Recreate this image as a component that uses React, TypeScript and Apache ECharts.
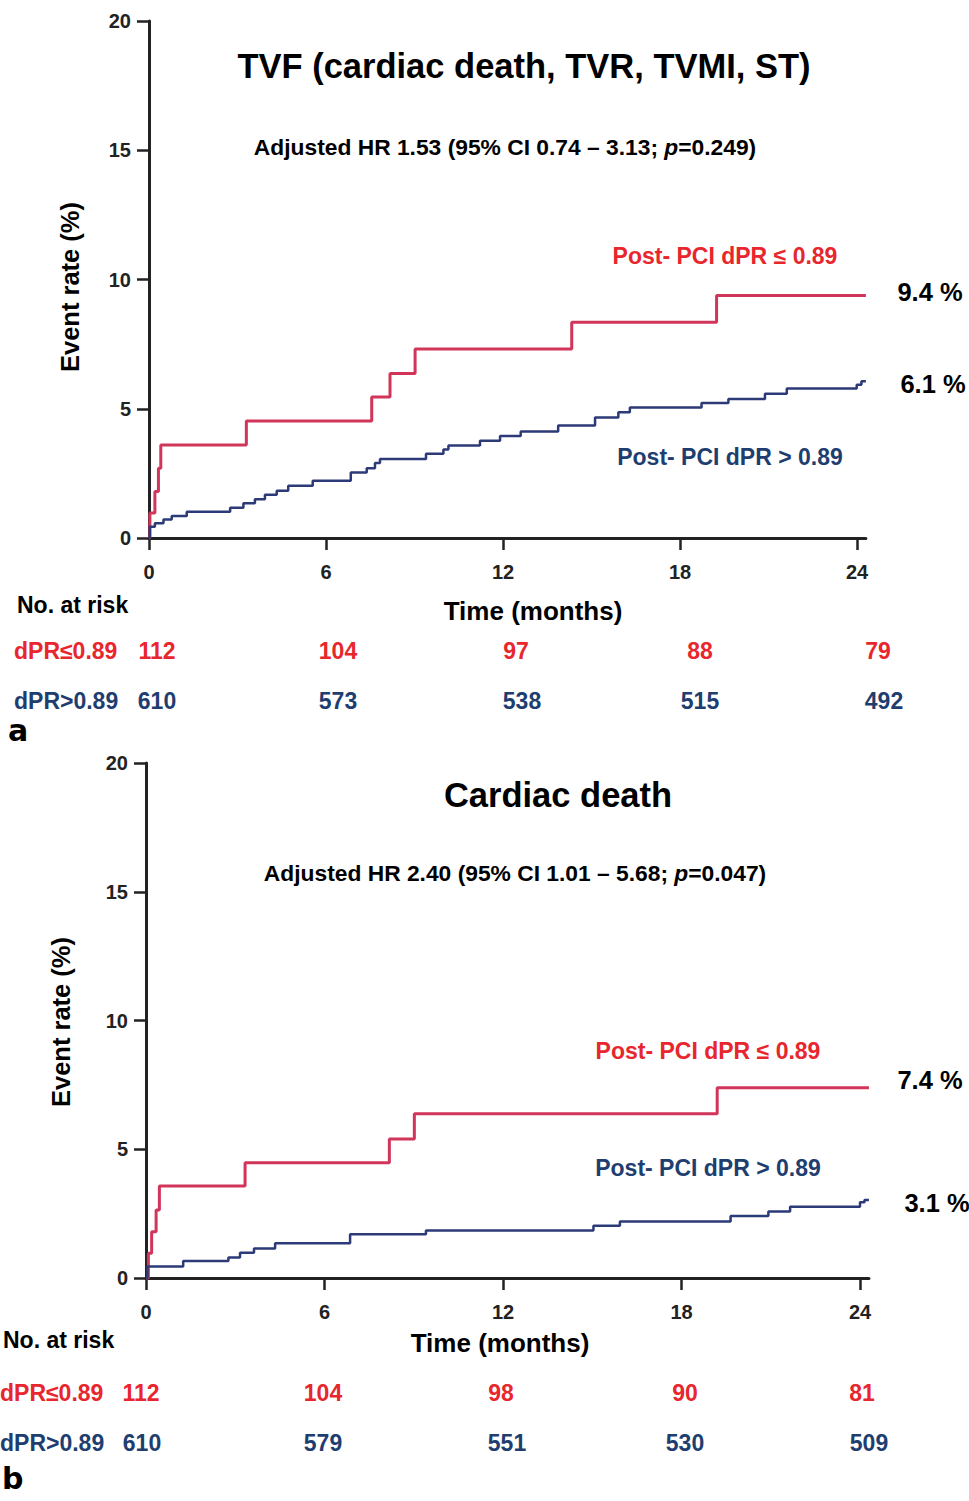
import React, { useEffect, useRef } from "react";
import * as echarts from "echarts";

const xTicks = [0, 6, 12, 18, 24];
const yTicks = [0, 5, 10, 15, 20];
const X_MAX = 24.3;

// Panel a: TVF
const tvfLowX = [0, 0.03, 0.2, 0.32, 0.4, 3.3, 7.55, 8.17, 9.02, 14.33, 19.24, 24.3];
const tvfLowY = [0, 0.97, 1.8, 2.7, 3.6, 4.53, 5.45, 6.36, 7.31, 8.35, 9.38, 9.38];
const tvfHighX = [0, 0.03, 0.2, 0.49, 0.77, 1.28, 2.75, 3.2, 3.59, 3.93, 4.33, 4.72, 5.55, 6.84, 7.38, 7.66, 7.83, 9.39, 9.98, 10.15, 11.22, 11.9, 12.6, 13.87, 15.12, 15.91, 16.3, 18.73, 19.64, 20.88, 21.62, 23.99, 24.15, 24.3];
const tvfHighY = [0, 0.44, 0.57, 0.72, 0.85, 1.02, 1.17, 1.34, 1.5, 1.67, 1.83, 2.02, 2.21, 2.53, 2.7, 2.9, 3.06, 3.26, 3.42, 3.58, 3.76, 3.95, 4.12, 4.35, 4.66, 4.86, 5.05, 5.22, 5.38, 5.58, 5.78, 5.93, 6.06, 6.06];

// Panel b: Cardiac death
const cdLowX = [0, 0.08, 0.19, 0.34, 0.45, 3.33, 8.18, 9.02, 19.2, 24.3];
const cdLowY = [0, 0.96, 1.8, 2.64, 3.57, 4.48, 5.4, 6.38, 7.39, 7.39];
const cdHighX = [0, 0.05, 1.25, 2.77, 3.16, 3.63, 4.34, 6.86, 9.41, 15.04, 15.93, 19.65, 20.92, 21.65, 24.0, 24.15, 24.3];
const cdHighY = [0, 0.45, 0.66, 0.8, 0.98, 1.15, 1.35, 1.7, 1.84, 2.03, 2.19, 2.41, 2.58, 2.77, 2.94, 3.03, 3.03];

// Numbers at risk
const riskTimes = ["0", "6", "12", "18", "24"];
const tvfRiskLow = [112, 104, 97, 88, 79];
const tvfRiskHigh = [610, 573, 538, 515, 492];
const cdRiskLow = [112, 104, 98, 90, 81];
const cdRiskHigh = [610, 579, 551, 530, 509];

const RED_TXT = "#e8262d";
const BLUE_TXT = "#1f3e70";
const RED_LINE = "#d2355a";
const BLUE_LINE = "#2c3a78";
const FONT = "'Liberation Sans', Arial, sans-serif";

const zip = (xs: number[], ys: number[]) => xs.map((x, i) => [x, ys[i]]);

function axisPair(gi: number) {
  const xAxis = {
    type: "value",
    gridIndex: gi,
    min: 0,
    max: X_MAX,
    axisLine: { show: true, onZero: false, lineStyle: { color: "#222", width: 3 } },
    axisTick: { show: true, length: 12, customValues: xTicks, lineStyle: { color: "#222", width: 2.5 } },
    axisLabel: { margin: 24, customValues: xTicks, fontFamily: FONT, fontWeight: "bold", fontSize: 20, color: "#222" },
    splitLine: { show: false },
  };
  const yAxis = {
    type: "value",
    gridIndex: gi,
    min: 0,
    max: 20,
    interval: 5,
    axisLine: { show: true, lineStyle: { color: "#222", width: 3 } },
    axisTick: { show: true, length: 12, lineStyle: { color: "#222", width: 2.5 } },
    axisLabel: { margin: 18, fontFamily: FONT, fontWeight: "bold", fontSize: 20, color: "#222" },
    splitLine: { show: false },
  };
  return { xAxis, yAxis };
}

function txt(text: string, x: number, y: number, size: number, color = "#000", align = "center", extra: any = {}) {
  return {
    type: "text",
    x,
    y,
    style: {
      text,
      fill: color,
      font: `bold ${size}px ${FONT}`,
      align,
      verticalAlign: "middle",
      ...extra,
    },
  };
}

function hrText(main: string, pval: string, x: number, y: number) {
  const s = 22.8;
  return {
    type: "text",
    x,
    y,
    style: {
      text: `{a|${main}}{i|p}{a|=${pval})}`,
      align: "center",
      verticalAlign: "middle",
      rich: {
        a: { fontFamily: FONT, fontWeight: "bold", fontSize: s, color: "#000" },
        i: { fontFamily: FONT, fontWeight: "bold", fontStyle: "italic", fontSize: s, color: "#000" },
      },
    },
  };
}

function riskRow(label: string, vals: number[], xs: number[], labelX: number, y: number, color: string) {
  const els: any[] = [txt(label, labelX, y, 23, color, "left")];
  vals.forEach((v, i) => els.push(txt(String(v), xs[i], y, 23, color, "center")));
  return els;
}

export default function App() {
  const ref = useRef<HTMLDivElement>(null);
  useEffect(() => {
    if (!ref.current) return;
    const chart = echarts.init(ref.current, null, { renderer: "svg" });
    const a0 = axisPair(0);
    const a1 = axisPair(1);
    const lineSeries = (gi: number, data: number[][], color: string, w: number) => ({
      type: "line",
      xAxisIndex: gi,
      yAxisIndex: gi,
      step: "end",
      data,
      showSymbol: false,
      symbol: "none",
      clip: false,
      lineStyle: { color, width: w },
      silent: true,
    });

    const graphics: any[] = [
      // Panel a
      txt("TVF (cardiac death, TVR, TVMI, ST)", 524, 66, 34.5),
      hrText("Adjusted HR 1.53 (95% CI 0.74 \u2013 3.13; ", "0.249", 505, 147),
      txt("Post- PCI dPR \u2264 0.89", 725, 256, 23, RED_TXT),
      txt("Post- PCI dPR > 0.89", 730, 457, 23, BLUE_TXT),
      txt("9.4 %", 930, 292, 25.5),
      txt("6.1 %", 933, 384, 25.5),
      { ...txt("Event rate (%)", 70, 287, 25.5), rotation: Math.PI / 2 },
      txt("No. at risk", 17, 605, 23, "#000", "left"),
      txt("Time (months)", 533, 611, 26),
      ...riskRow("dPR\u22640.89", tvfRiskLow, [157, 338, 516, 700, 878], 14, 651, RED_TXT),
      ...riskRow("dPR>0.89", tvfRiskHigh, [157, 338, 522, 700, 884], 14, 701, BLUE_TXT),
      { type: "text", x: 8, y: 730, style: { text: "a", fill: "#000", font: "bold 30px 'DejaVu Sans', sans-serif", align: "left", verticalAlign: "middle" } },
      // Panel b
      txt("Cardiac death", 558, 795, 34.5),
      hrText("Adjusted HR 2.40 (95% CI 1.01 \u2013 5.68; ", "0.047", 515, 873),
      txt("Post- PCI dPR \u2264 0.89", 708, 1051, 23, RED_TXT),
      txt("Post- PCI dPR > 0.89", 708, 1168, 23, BLUE_TXT),
      txt("7.4 %", 930, 1080, 25.5),
      txt("3.1 %", 937, 1203, 25.5),
      { ...txt("Event rate (%)", 61, 1022, 25.5), rotation: Math.PI / 2 },
      txt("No. at risk", 3, 1340, 23, "#000", "left"),
      txt("Time (months)", 500, 1343, 26),
      ...riskRow("dPR\u22640.89", cdRiskLow, [141, 323, 501, 685, 862], 0, 1393, RED_TXT),
      ...riskRow("dPR>0.89", cdRiskHigh, [142, 323, 507, 685, 869], 0, 1443, BLUE_TXT),
      { type: "text", x: 2, y: 1478, style: { text: "b", fill: "#000", font: "bold 30px 'DejaVu Sans', sans-serif", align: "left", verticalAlign: "middle" } },
    ];

    chart.setOption({
      animation: false,
      backgroundColor: "#fff",
      grid: [
        { left: 149, top: 21, width: (708 / 24) * X_MAX, height: 517 },
        { left: 146, top: 763, width: (714 / 24) * X_MAX, height: 515 },
      ],
      xAxis: [a0.xAxis, a1.xAxis],
      yAxis: [a0.yAxis, a1.yAxis],
      series: [
        lineSeries(0, zip(tvfLowX, tvfLowY), RED_LINE, 3),
        lineSeries(0, zip(tvfHighX, tvfHighY), BLUE_LINE, 2.5),
        lineSeries(1, zip(cdLowX, cdLowY), RED_LINE, 3),
        lineSeries(1, zip(cdHighX, cdHighY), BLUE_LINE, 2.5),
      ],
      graphic: graphics,
    });
    return () => chart.dispose();
  }, []);
  return (
    <div
      ref={ref}
      style={{ position: "absolute", left: 0, top: 0, width: 969, height: 1501, background: "#fff" }}
    />
  );
}
